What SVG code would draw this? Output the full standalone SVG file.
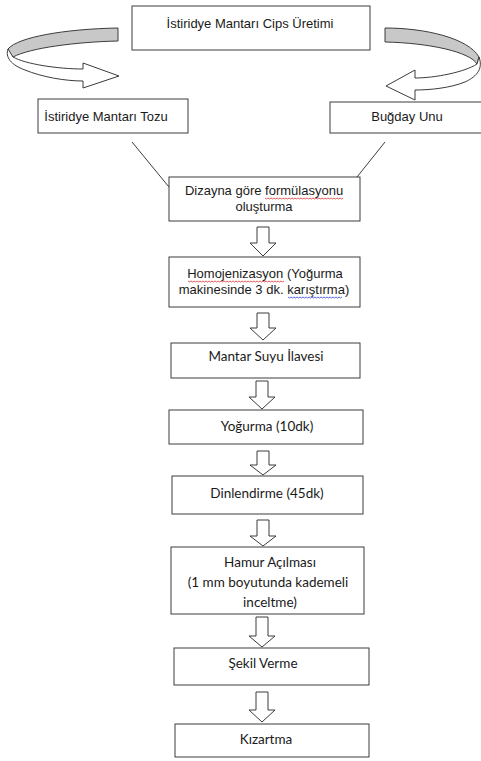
<svg xmlns="http://www.w3.org/2000/svg" width="481" height="761" viewBox="0 0 481 761">
<style>
.box{fill:#fff;stroke:#3c3c3c;stroke-width:1}
.arr{fill:#fff;stroke:#3c3c3c;stroke-width:1;stroke-linejoin:miter}
.rib{fill:#c8c8c8;stroke:#3c3c3c;stroke-width:1}
.ribw{fill:#fff;stroke:#3c3c3c;stroke-width:1}
.ln{stroke:#3c3c3c;stroke-width:1;fill:none}
.a{font-family:"Liberation Sans",Arial,sans-serif;font-size:13px;fill:#1a1a1a;text-anchor:middle}
.c{font-family:Lato,"Liberation Sans",sans-serif;font-size:13.5px;fill:#1a1a1a;text-anchor:middle}
.red{stroke:#e03030;stroke-width:0.8;fill:none}
.blue{stroke:#3040e0;stroke-width:0.8;fill:none}
</style>
<rect width="481" height="761" fill="#fff"/>

<g id="curved-arrows">
  <path class="rib" d="M118,28 C65,29 18,37 8,49 C9,52 11,55 13,57 C30,48 75,42 118,41 Z"/>
  <path class="ribw" d="M8,49 C5,57 11,65 25,70 C42,77 65,81 83,81 L83,88 L119,76 L83,63 L83,69 C58,69 25,64 13,57 Z"/>
  <path class="rib" d="M385,28 C425,28 468,38 479,57 L477,64 C470,52 430,43 385,42 Z"/>
  <path class="ribw" d="M479,57 C483,68 478,76 465,82 C450,88 430,90 415,90 L415,100 L386,86 L415,70 L415,78 C435,78 465,72 477,64 Z"/>
</g>

<g id="connectors">
  <line class="ln" x1="132" y1="142" x2="169" y2="187"/>
  <line class="ln" x1="385" y1="142" x2="357" y2="177"/>
  <polygon class="arr" points="257,227 269,227 269,243 276,243 263,256 250,243 257,243"/>
  <polygon class="arr" points="257,313 269,313 269,328 276,328 263,340 250,328 257,328"/>
  <polygon class="arr" points="256,381 268,381 268,397 275,397 262,409 249,397 256,397"/>
  <polygon class="arr" points="257,451 269,451 269,465 276,465 263,475 250,465 257,465"/>
  <polygon class="arr" points="257,520 269,520 269,536 276,536 263,546 250,536 257,536"/>
  <polygon class="arr" points="256,617 268,617 268,636 275,636 262,647 249,636 256,636"/>
  <polygon class="arr" points="256,692 268,692 268,710 275,710 262,722 249,710 256,710"/>
</g>

<g id="n-title">
  <rect class="box" x="132" y="6" width="238" height="44"/>
  <text class="a" x="250" y="28">İstiridye Mantarı Cips Üretimi</text>
</g>
<g id="n-toz">
  <rect class="box" x="38" y="99" width="150" height="34"/>
  <text class="a" x="106" y="121">İstiridye Mantarı Tozu</text>
</g>
<g id="n-un">
  <rect class="box" x="330" y="102" width="160" height="31"/>
  <text class="a" x="407" y="121">Buğday Unu</text>
</g>
<g id="n-dizayn">
  <rect class="box" x="169" y="177" width="191" height="44"/>
  <text class="a" x="264" y="195">Dizayna göre formülasyonu</text>
  <text class="a" x="264" y="211">oluşturma</text>
  <path class="red" d="M265,198 l1.5,1 l1.5,-1 l1.5,1 l1.5,-1 l1.5,1 l1.5,-1 l1.5,1 l1.5,-1 l1.5,1 l1.5,-1 l1.5,1 l1.5,-1 l1.5,1 l1.5,-1 l1.5,1 l1.5,-1 l1.5,1 l1.5,-1 l1.5,1 l1.5,-1 l1.5,1 l1.5,-1 l1.5,1 l1.5,-1 l1.5,1 l1.5,-1 l1.5,1 l1.5,-1 l1.5,1 l1.5,-1 l1.5,1 l1.5,-1 l1.5,1 l1.5,-1 l1.5,1 l1.5,-1 l1.5,1 l1.5,-1 l1.5,1 l1.5,-1 l1.5,1 l1.5,-1 l1.5,1 l1.5,-1 l1.5,1 l1.5,-1 l1.5,1 l1.5,-1 l1.5,1 l1.5,-1 l1.5,1 l1.5,-1"/>
</g>
<g id="n-homojen">
  <rect class="box" x="169" y="257" width="191" height="50"/>
  <text class="a" x="265" y="278">Homojenizasyon (Yoğurma</text>
  <text class="a" x="264" y="294">makinesinde 3 dk. karıştırma)</text>
  <path class="red" d="M188,281 l1.5,1 l1.5,-1 l1.5,1 l1.5,-1 l1.5,1 l1.5,-1 l1.5,1 l1.5,-1 l1.5,1 l1.5,-1 l1.5,1 l1.5,-1 l1.5,1 l1.5,-1 l1.5,1 l1.5,-1 l1.5,1 l1.5,-1 l1.5,1 l1.5,-1 l1.5,1 l1.5,-1 l1.5,1 l1.5,-1 l1.5,1 l1.5,-1 l1.5,1 l1.5,-1 l1.5,1 l1.5,-1 l1.5,1 l1.5,-1 l1.5,1 l1.5,-1 l1.5,1 l1.5,-1 l1.5,1 l1.5,-1 l1.5,1 l1.5,-1 l1.5,1 l1.5,-1 l1.5,1 l1.5,-1 l1.5,1 l1.5,-1 l1.5,1 l1.5,-1 l1.5,1 l1.5,-1 l1.5,1 l1.5,-1 l1.5,1 l1.5,-1 l1.5,1 l1.5,-1 l1.5,1 l1.5,-1 l1.5,1 l1.5,-1 l1.5,1 l1.5,-1 l1.5,1 l1.5,-1"/>
  <path class="blue" d="M288,297 l1.5,1 l1.5,-1 l1.5,1 l1.5,-1 l1.5,1 l1.5,-1 l1.5,1 l1.5,-1 l1.5,1 l1.5,-1 l1.5,1 l1.5,-1 l1.5,1 l1.5,-1 l1.5,1 l1.5,-1 l1.5,1 l1.5,-1 l1.5,1 l1.5,-1 l1.5,1 l1.5,-1 l1.5,1 l1.5,-1 l1.5,1 l1.5,-1 l1.5,1 l1.5,-1 l1.5,1 l1.5,-1 l1.5,1 l1.5,-1 l1.5,1 l1.5,-1 l1.5,1 l1.5,-1"/>
</g>
<g id="n-mantarsuyu">
  <rect class="box" x="171" y="343" width="189" height="35"/>
  <text class="c" x="266" y="361">Mantar Suyu İlavesi</text>
</g>
<g id="n-yogurma">
  <rect class="box" x="169" y="410" width="194" height="34"/>
  <text class="c" x="267" y="431">Yoğurma (10dk)</text>
</g>
<g id="n-dinlendirme">
  <rect class="box" x="172" y="476" width="191" height="38"/>
  <text class="c" x="267" y="498">Dinlendirme (45dk)</text>
</g>
<g id="n-hamur">
  <rect class="box" x="171" y="547" width="193" height="67"/>
  <text class="c" x="270" y="567">Hamur Açılması</text>
  <text class="c" x="268" y="587">(1 mm boyutunda kademeli</text>
  <text class="c" x="270" y="607">inceltme)</text>
</g>
<g id="n-sekil">
  <rect class="box" x="174" y="648" width="195" height="37"/>
  <text class="c" x="263" y="668">Şekil Verme</text>
</g>
<g id="n-kizartma">
  <rect class="box" x="175" y="724" width="194" height="33"/>
  <text class="c" x="266" y="744">Kızartma</text>
</g>
</svg>
